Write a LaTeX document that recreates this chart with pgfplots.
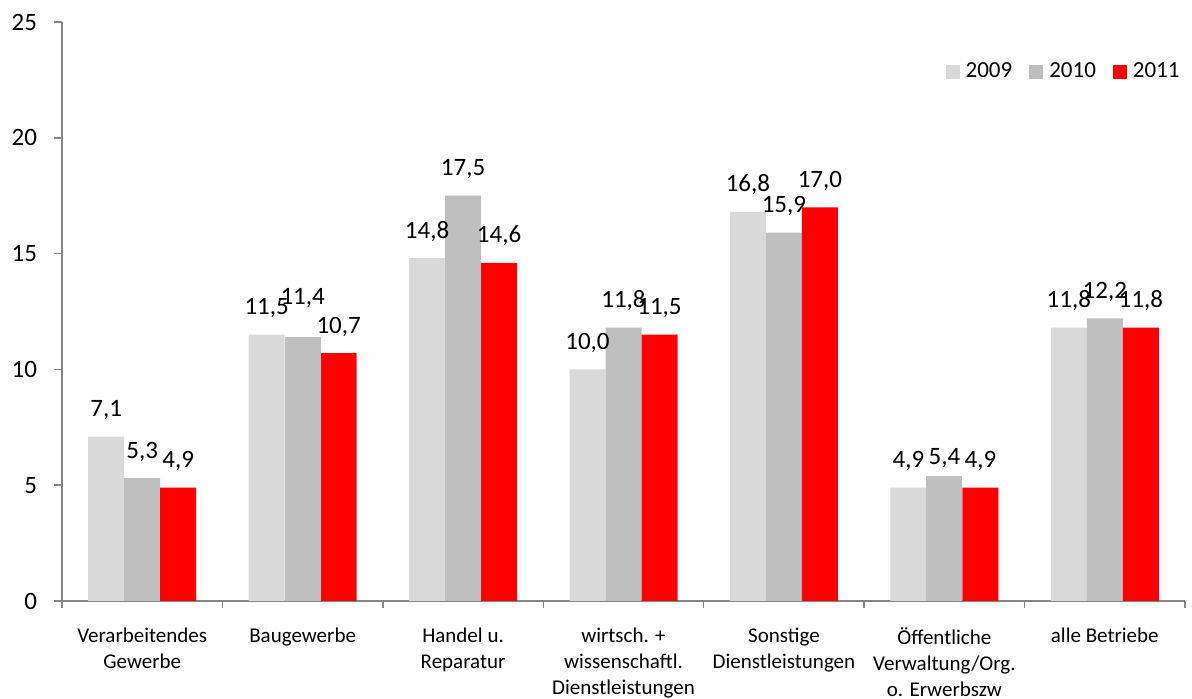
\documentclass[border=0pt]{standalone}
\usepackage{pgfplots}
\pgfplotsset{compat=1.18}
\usepackage{fontspec}
\setmainfont{Carlito}
\definecolor{cA}{HTML}{D9D9D9}
\definecolor{cB}{HTML}{BFBFBF}
\definecolor{cC}{HTML}{FF0000}
\definecolor{axgray}{HTML}{868686}

\begin{document}
\begin{tikzpicture}
\begin{axis}[
  at={(0,0)}, anchor=south west,
  scale only axis,
  width=561.5pt, height=289.5pt,
  ybar, bar width=18pt,
  xmin=-0.5, xmax=6.5,
  ymin=0, ymax=25,
  ytick={0,5,10,15,20,25},
  xtick={0,...,6},
  xticklabels={{Verarbeitendes\\Gewerbe},{Baugewerbe},{Handel u.\\Reparatur},{wirtsch. +\\wissenschaftl.\\Dienstleistungen},{Sonstige\\Dienstleistungen},{Öffentliche\\Verwaltung/Org.\\o. Erwerbszw},{alle Betriebe}},
  minor xtick={-0.5,0.5,...,6.5},
  axis x line*=bottom, axis y line*=left,
  axis line style={draw=axgray, line width=0.75pt, -},
  tick align=outside,
  major tick length=4pt,
  minor tick length=3.5pt,
  xtick style={draw=none},
  minor x tick style={draw=axgray, line width=0.75pt},
  ytick style={draw=axgray, line width=0.75pt},
  /pgf/number format/assume math mode=true,
  /pgf/number format/.cd, fixed, fixed zerofill, precision=1, use comma,
  /pgfplots/.cd,
  yticklabel={\pgfmathprintnumber[fixed,precision=0]{\tick}},
  yticklabel style={font=\fontsize{12.5}{14}\selectfont, xshift=-5pt},
  xticklabel style={font=\fontsize{10.5}{13}\selectfont, align=center, yshift=-6pt},
  nodes near coords,
  nodes near coords style={font=\fontsize{12.5}{14}\selectfont, anchor=base, text=black, yshift=10pt},
  legend columns=3,
  legend image code/.code={\fill[#1] (0pt,-3.5pt) rectangle (7pt,3.5pt);},
  legend style={draw=none, fill=none, inner sep=0pt,
    at={(axis description cs:0.9955,0.9136)}, anchor=east,
    nodes={inner sep=0pt, font=\fontsize{11.5}{13}\selectfont},
    /tikz/every odd column/.append style={column sep=3pt},
    /tikz/every even column/.append style={column sep=8.5pt}},
]
\addplot[bar shift=-18pt, fill=cA, draw=none] coordinates {(0,7.1) (1,11.5) (2,14.8) (3,10.0) (4,16.8) (5,4.9) (6,11.8)};
\addplot[bar shift=0pt, fill=cB, draw=none] coordinates {(0,5.3) (2,17.5) (3,11.8) (4,15.9) (6,12.2)};
\addplot[bar shift=18pt, fill=cC, draw=none] coordinates {(0,4.9) (1,10.7) (2,14.6) (3,11.5) (4,17.0) (5,4.9) (6,11.8)};
\addplot[forget plot, bar shift=0pt, fill=cB, draw=none, nodes near coords style={yshift=6pt}] coordinates {(1,11.4)};
\addplot[forget plot, bar shift=0pt, fill=cB, draw=none, nodes near coords style={yshift=-4.5pt}] coordinates {(5,5.4)};
\legend{2009,2010,2011}
\end{axis}
\pgfresetboundingbox
\useasboundingbox (-31pt,-49pt) rectangle (565pt,300.5pt);
\end{tikzpicture}
\end{document}
